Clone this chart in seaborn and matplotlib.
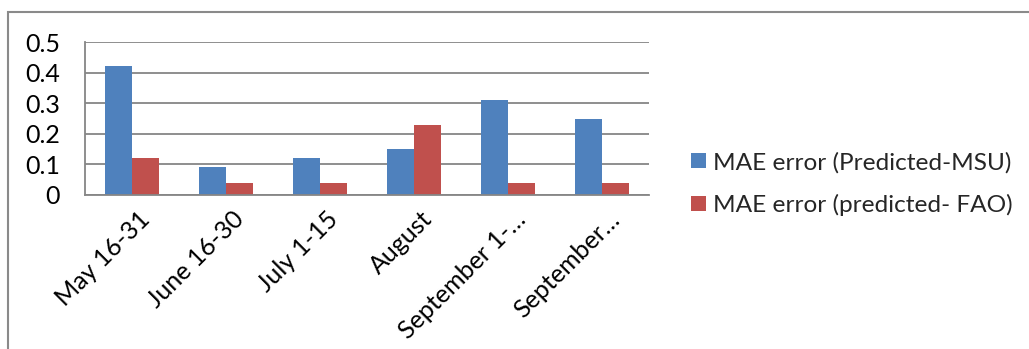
import matplotlib
matplotlib.use("Agg")
import matplotlib.pyplot as plt
import seaborn as sns
import pandas as pd
from matplotlib.patches import Rectangle
from matplotlib.transforms import ScaledTranslation

categories = ["May 16-31", "June 16-30", "July 1-15", "August", "September 1-\u2026", "September\u2026"]
series_names = ["MAE error (Predicted-MSU)", "MAE error (predicted- FAO)"]
msu_values = [0.42, 0.09, 0.12, 0.15, 0.31, 0.25]
fao_values = [0.12, 0.04, 0.04, 0.23, 0.04, 0.04]
y_ticks = [0, 0.1, 0.2, 0.3, 0.4, 0.5]
y_tick_labels = ["0", "0.1", "0.2", "0.3", "0.4", "0.5"]

df = pd.DataFrame({
    "period": categories * 2,
    "series": [series_names[0]] * len(categories) + [series_names[1]] * len(categories),
    "value": msu_values + fao_values,
})

sns.set_theme(style="white")
plt.rcParams["font.family"] = ["Lato", "DejaVu Sans"]

W, H = 1029, 349
fig = plt.figure(figsize=(W / 100, H / 100), dpi=100)
ax = fig.add_axes([85 / W, 1 - 195 / H, (649 - 85) / W, (195 - 42) / H])

palette = {series_names[0]: "#4F81BD", series_names[1]: "#C0504D"}
sns.barplot(data=df, x="period", y="value", hue="series", order=categories,
            hue_order=series_names, palette=palette, width=0.575, ax=ax,
            saturation=1, edgecolor="none", linewidth=0)

ax.set_ylim(0, 0.5)
ax.set_xlim(-0.5, len(categories) - 0.5)
ax.set_yticks(y_ticks)
ax.set_yticklabels(y_tick_labels, fontsize=18, color="black")
ax.yaxis.grid(True, color="#868686", linewidth=1.3)
ax.set_axisbelow(True)
ax.set_xlabel("")
ax.set_ylabel("")
for side in ["top", "right"]:
    ax.spines[side].set_visible(False)
ax.spines["left"].set_color("#868686")
ax.spines["left"].set_linewidth(1.3)
ax.spines["bottom"].set_color("#868686")
ax.spines["bottom"].set_linewidth(1.3)
ax.tick_params(axis="y", length=0, pad=18)
ax.tick_params(axis="x", length=0, pad=9)
ax.set_xticks(range(len(categories)))
ax.set_xticklabels(categories, rotation=45, ha="right", rotation_mode="anchor",
                   fontsize=18, color="black")
for lab in ax.get_xticklabels():
    lab.set_transform(lab.get_transform() + ScaledTranslation(6 / 100, 0, fig.dpi_scale_trans))

handles, labels = ax.get_legend_handles_labels()
ax.legend(handles, labels, loc="center left", bbox_to_anchor=(691 / W, 1 - 184 / H),
          bbox_transform=fig.transFigure, frameon=False, fontsize=17.6,
          handlelength=0.6, handleheight=0.6, handletextpad=0.3, labelspacing=0.85,
          borderaxespad=0, borderpad=0)

fig.patches.append(Rectangle((8 / W, -0.05), 1.1, 1 - 12 / H + 0.05,
                             transform=fig.transFigure, fill=False,
                             edgecolor="#8a8a8a", linewidth=1.5, clip_on=False))

fig.savefig("out.png", dpi=100)
